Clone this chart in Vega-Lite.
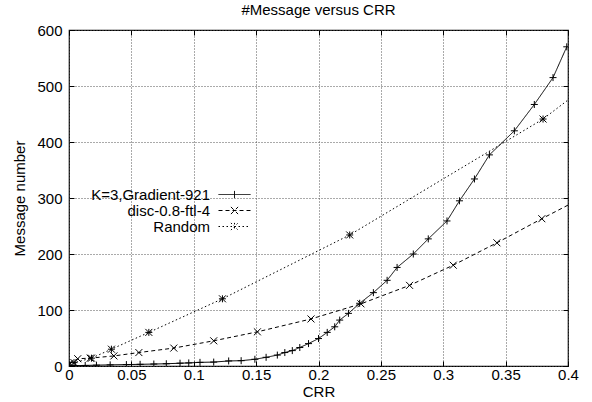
{
  "$schema": "https://vega.github.io/schema/vega-lite/v6.json",
  "width": 499,
  "height": 336,
  "autosize": {"type": "none"},
  "padding": {"left": 69, "top": 30, "right": 24, "bottom": 36},
  "background": "white",
  "config": {
    "font": "Liberation Sans",
    "view": {"stroke": "#000", "strokeWidth": 1.2},
    "axis": {
      "labelFont": "Liberation Sans", "labelFontSize": 15, "labelColor": "#000",
      "titleFont": "Liberation Sans", "titleFontSize": 15, "titleFontWeight": "normal", "titleColor": "#000",
      "domain": false, "tickColor": "#000", "tickSize": -5, "tickWidth": 1,
      "gridColor": "#555", "gridDash": [1, 2], "gridWidth": 1
    }
  },
  "title": {"text": "#Message versus CRR", "fontSize": 15, "fontWeight": "normal", "font": "Liberation Sans", "color": "#000", "offset": 5},
  "data": {"values": [
    {"s": "K=3,Gradient-921", "x": 0, "y": 0},
    {"s": "K=3,Gradient-921", "x": 0.005, "y": 0.5},
    {"s": "K=3,Gradient-921", "x": 0.013, "y": 1},
    {"s": "K=3,Gradient-921", "x": 0.022, "y": 1.5},
    {"s": "K=3,Gradient-921", "x": 0.033, "y": 2},
    {"s": "K=3,Gradient-921", "x": 0.046, "y": 2.5},
    {"s": "K=3,Gradient-921", "x": 0.057, "y": 3},
    {"s": "K=3,Gradient-921", "x": 0.068, "y": 3.5},
    {"s": "K=3,Gradient-921", "x": 0.078, "y": 4},
    {"s": "K=3,Gradient-921", "x": 0.089, "y": 5},
    {"s": "K=3,Gradient-921", "x": 0.096, "y": 5.5},
    {"s": "K=3,Gradient-921", "x": 0.105, "y": 6.5},
    {"s": "K=3,Gradient-921", "x": 0.116, "y": 7},
    {"s": "K=3,Gradient-921", "x": 0.128, "y": 9},
    {"s": "K=3,Gradient-921", "x": 0.138, "y": 9.5},
    {"s": "K=3,Gradient-921", "x": 0.149, "y": 12},
    {"s": "K=3,Gradient-921", "x": 0.158, "y": 15.5},
    {"s": "K=3,Gradient-921", "x": 0.167, "y": 19.5},
    {"s": "K=3,Gradient-921", "x": 0.173, "y": 24},
    {"s": "K=3,Gradient-921", "x": 0.179, "y": 27.5},
    {"s": "K=3,Gradient-921", "x": 0.185, "y": 33},
    {"s": "K=3,Gradient-921", "x": 0.192, "y": 40},
    {"s": "K=3,Gradient-921", "x": 0.2, "y": 49},
    {"s": "K=3,Gradient-921", "x": 0.207, "y": 60},
    {"s": "K=3,Gradient-921", "x": 0.213, "y": 70},
    {"s": "K=3,Gradient-921", "x": 0.217, "y": 82},
    {"s": "K=3,Gradient-921", "x": 0.224, "y": 94},
    {"s": "K=3,Gradient-921", "x": 0.233, "y": 112},
    {"s": "K=3,Gradient-921", "x": 0.244, "y": 131},
    {"s": "K=3,Gradient-921", "x": 0.255, "y": 153},
    {"s": "K=3,Gradient-921", "x": 0.263, "y": 176},
    {"s": "K=3,Gradient-921", "x": 0.276, "y": 200},
    {"s": "K=3,Gradient-921", "x": 0.288, "y": 227},
    {"s": "K=3,Gradient-921", "x": 0.303, "y": 259},
    {"s": "K=3,Gradient-921", "x": 0.313, "y": 295},
    {"s": "K=3,Gradient-921", "x": 0.325, "y": 334},
    {"s": "K=3,Gradient-921", "x": 0.337, "y": 377},
    {"s": "K=3,Gradient-921", "x": 0.357, "y": 420},
    {"s": "K=3,Gradient-921", "x": 0.373, "y": 467},
    {"s": "K=3,Gradient-921", "x": 0.388, "y": 515},
    {"s": "K=3,Gradient-921", "x": 0.399, "y": 570},
    {"s": "disc-0.8-ftl-4", "x": 0, "y": 4},
    {"s": "disc-0.8-ftl-4", "x": 0.007, "y": 13},
    {"s": "disc-0.8-ftl-4", "x": 0.017, "y": 14},
    {"s": "disc-0.8-ftl-4", "x": 0.036, "y": 18},
    {"s": "disc-0.8-ftl-4", "x": 0.056, "y": 24},
    {"s": "disc-0.8-ftl-4", "x": 0.084, "y": 32},
    {"s": "disc-0.8-ftl-4", "x": 0.116, "y": 45},
    {"s": "disc-0.8-ftl-4", "x": 0.151, "y": 61},
    {"s": "disc-0.8-ftl-4", "x": 0.194, "y": 84},
    {"s": "disc-0.8-ftl-4", "x": 0.234, "y": 111},
    {"s": "disc-0.8-ftl-4", "x": 0.273, "y": 144},
    {"s": "disc-0.8-ftl-4", "x": 0.308, "y": 180},
    {"s": "disc-0.8-ftl-4", "x": 0.343, "y": 220},
    {"s": "disc-0.8-ftl-4", "x": 0.379, "y": 263},
    {"s": "disc-0.8-ftl-4", "x": 0.43, "y": 322},
    {"s": "Random", "x": 0, "y": 2},
    {"s": "Random", "x": 0.004, "y": 6},
    {"s": "Random", "x": 0.018, "y": 14},
    {"s": "Random", "x": 0.034, "y": 30},
    {"s": "Random", "x": 0.064, "y": 60},
    {"s": "Random", "x": 0.123, "y": 120},
    {"s": "Random", "x": 0.225, "y": 234},
    {"s": "Random", "x": 0.38, "y": 441},
    {"s": "Random", "x": 0.45, "y": 560}
  ]},
  "layer": [
    {
      "mark": {"type": "line", "clip": true, "color": "#000", "strokeWidth": 1},
      "encoding": {
        "x": {"field": "x", "type": "quantitative", "scale": {"domain": [0, 0.4], "nice": false, "zero": false},
          "axis": {"orient": "bottom", "title": "CRR", "values": [0, 0.05, 0.1, 0.15, 0.2, 0.25, 0.3, 0.35, 0.4], "format": ".2~f", "labelPadding": 6, "titlePadding": 2, "labelFlush": false}},
        "y": {"field": "y", "type": "quantitative", "scale": {"domain": [0, 600], "nice": false},
          "axis": {"orient": "left", "title": "Message number", "values": [0, 100, 200, 300, 400, 500, 600], "labelPadding": 12, "titlePadding": 9}},
        "strokeDash": {"field": "s", "type": "nominal",
          "scale": {"domain": ["K=3,Gradient-921", "disc-0.8-ftl-4", "Random"], "range": [[1, 0], [4, 3], [1.5, 2.5]]},
          "legend": {
            "title": null, "orient": "none", "legendX": 158, "legendY": 157, "padding": 0,
            "labelAlign": "right", "labelOffset": -32, "labelFontSize": 15, "labelFont": "Liberation Sans", "labelColor": "#000",
            "symbolSize": 64, "rowPadding": 0, "symbolStrokeColor": "#000", "symbolStrokeWidth": 1,
            "symbolType": "M-4,0L4,0",
            "encode": {"symbols": {"update": {"shape": {"signal": "datum.value === 'Random' ? 'M-4,0L4,0M0,-0.9L0,0.9M-0.9,-0.9L0.9,0.9M-0.9,0.9L0.9,-0.9' : datum.value === 'disc-0.8-ftl-4' ? 'M-4,0L4,0M-0.9,-0.9L0.9,0.9M-0.9,0.9L0.9,-0.9' : 'M-4,0L4,0M0,-0.9L0,0.9'"}}}}
          }}
      }
    },
    {
      "transform": [{"filter": "datum.s === 'K=3,Gradient-921'"}],
      "mark": {"type": "point", "clip": true, "filled": false, "color": "#000", "strokeWidth": 1, "size": 49, "opacity": 1, "shape": "M-1,0L1,0M0,-1L0,1"},
      "encoding": {
        "x": {"field": "x", "type": "quantitative",
          "axis": {"orient": "top", "values": [0, 0.05, 0.1, 0.15, 0.2, 0.25, 0.3, 0.35, 0.4], "labels": false, "grid": false, "title": null}},
        "y": {"field": "y", "type": "quantitative",
          "axis": {"orient": "right", "values": [0, 100, 200, 300, 400, 500, 600], "labels": false, "grid": false, "title": null}}
      }
    },
    {
      "transform": [{"filter": "datum.s === 'disc-0.8-ftl-4'"}],
      "mark": {"type": "point", "clip": true, "filled": false, "color": "#000", "strokeWidth": 1, "size": 49, "opacity": 1, "shape": "M-1,-1L1,1M-1,1L1,-1"},
      "encoding": {
        "x": {"field": "x", "type": "quantitative", "axis": null},
        "y": {"field": "y", "type": "quantitative", "axis": null}
      }
    },
    {
      "transform": [{"filter": "datum.s === 'Random'"}],
      "mark": {"type": "point", "clip": true, "filled": false, "color": "#000", "strokeWidth": 1, "size": 49, "opacity": 1, "shape": "M-1,0L1,0M0,-1L0,1M-1,-1L1,1M-1,1L1,-1"},
      "encoding": {
        "x": {"field": "x", "type": "quantitative", "axis": null},
        "y": {"field": "y", "type": "quantitative", "axis": null}
      }
    }
  ]
}
